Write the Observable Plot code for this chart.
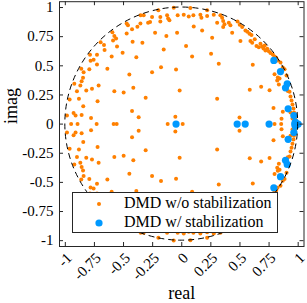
<!DOCTYPE html>
<html>
<head>
<meta charset="utf-8">
<script src="https://cdn.jsdelivr.net/npm/d3@7"></script>
<script src="https://cdn.jsdelivr.net/npm/@observablehq/plot@0.6"></script>
<style>
  body { margin: 0; background: #fff; }
  #wrap { position: relative; width: 307px; height: 303px; font-family: "Liberation Serif", "DejaVu Serif", serif; }
  #legend { position: absolute; left: 72px; top: 192px; width: 206px; height: 41px; box-sizing: border-box;
            border: 1px solid #262626; background: #fff; }
  #legend .row { position: absolute; left: 0; width: 100%; height: 16px; }
  #legend svg { position: absolute; left: 18px; top: 0; }
  #legend span { position: absolute; left: 51px; top: -1px; font-size: 16px; line-height: 16px; color: #000; white-space: nowrap; }
</style>
</head>
<body>
<div id="wrap"></div>
<script>
// ---------------- data ----------------
const seriesNames = ["DMD w/o stabilization", "DMD w/ stabilization"];
const seriesColors = ["#ff8000", "#0099ff"];
const tickValues = [-1, -0.75, -0.5, -0.25, 0, 0.25, 0.5, 0.75, 1];
const tickLabels = ["-1", "-0.75", "-0.5", "-0.25", "0", "0.25", "0.5", "0.75", "1"];

// eigenvalues without stabilization: [real, imag], upper half plane
const unstabUpper = [
  [-0.986,0.073],[-0.963,0.211],[-0.929,0.096],[-0.912,0.073],[-0.860,0.079],[-0.883,0.217],
  [-0.923,0.346],[-0.900,0.282],[-0.871,0.331],[-0.860,0.368],[-0.848,0.397],[-0.863,0.475],
  [-0.843,0.445],[-0.794,0.471],[-0.788,0.595],[-0.783,0.543],[-0.757,0.552],[-0.728,0.595],
  [-0.728,0.512],[-0.820,0.288],[-0.771,0.303],[-0.714,0.331],[-0.639,0.475],[-0.723,0.196],
  [-0.846,0.153],[-0.779,0.053],[-0.697,0.703],[-0.668,0.678],[-0.663,0.635],[-0.596,0.787],
  [-0.579,0.755],[-0.564,0.735],[-0.590,0.718],[-0.556,0.666],[-0.508,0.612],[-0.602,0.580],
  [-0.473,0.862],[-0.462,0.848],[-0.473,0.778],[-0.427,0.813],[-0.381,0.836],[-0.422,0.707],
  [-0.390,0.574],[-0.338,0.698],[-0.450,0.426],[-0.416,0.311],[-0.579,0.282],[-0.499,0.271],
  [-0.310,0.225],[-0.427,0.113],[-0.370,0.058],[-0.353,0.933],[-0.327,0.933],[-0.355,0.862],
  [-0.289,0.870],[-0.272,0.875],[-0.255,0.445],[-0.229,0.784],[-0.069,0.998],[0.074,0.996],
  [-0.201,0.976],[0.218,0.976],[-0.255,0.918],[-0.184,0.918],[-0.184,0.881],[-0.126,0.933],
  [-0.117,0.905],[-0.106,0.890],[-0.035,0.933],[0.017,0.939],[0.060,0.924],[0.100,0.933],
  [0.160,0.939],[0.169,0.913],[0.218,0.927],[0.275,0.939],[0.332,0.933],[0.347,0.913],
  [0.356,0.884],[0.304,0.870],[0.356,0.832],[0.367,0.856],[0.404,0.870],[0.418,0.847],
  [0.433,0.784],[0.479,0.881],[0.498,0.853],[0.519,0.832],[0.547,0.804],[0.564,0.793],
  [0.582,0.776],[0.599,0.764],[0.504,0.712],[0.590,0.712],[0.605,0.698],[0.627,0.727],
  [0.642,0.669],[0.662,0.660],[0.676,0.690],[0.691,0.666],[0.702,0.649],[0.713,0.675],
  [0.719,0.632],[0.734,0.647],[0.748,0.626],[0.762,0.609],[0.782,0.598],[0.797,0.580],
  [0.811,0.569],[0.822,0.546],[0.848,0.529],[0.868,0.486],[0.883,0.471],[0.797,0.428],
  [0.825,0.400],[0.840,0.391],[0.900,0.417],[0.911,0.285],[0.926,0.277],[0.934,0.236],
  [0.943,0.202],[0.951,0.168],[0.960,0.133],[0.964,0.099],[0.973,0.064],[0.977,0.039],
  [0.986,0.021],[0.934,0.099],[0.951,0.047],[0.103,0.838],[0.175,0.804],[-0.132,0.755],
  [-0.040,0.784],[0.261,0.741],[0.037,0.669],[-0.155,0.641],[0.252,0.604],[0.089,0.580],
  [0.318,0.518],[0.610,0.509],[-0.049,0.469],[-0.178,0.488],[-0.018,0.288],[0.304,0.217],
  [0.584,0.294],[0.754,0.290],[0.788,0.139],[0.820,0.374],[0.834,0.340],[-0.055,0.064],
  [0.857,0.045],[0.868,0.105],[0.496,0.056],[0.682,0.320]
];
// conjugate partners, lower half plane
const unstabLower = [
  [-0.986,-0.073],[-0.963,-0.211],[-0.929,-0.096],[-0.912,-0.073],[-0.860,-0.079],[-0.883,-0.217],
  [-0.923,-0.346],[-0.900,-0.282],[-0.871,-0.331],[-0.860,-0.368],[-0.848,-0.397],[-0.863,-0.475],
  [-0.843,-0.445],[-0.794,-0.471],[-0.788,-0.595],[-0.783,-0.543],[-0.757,-0.552],[-0.728,-0.595],
  [-0.728,-0.512],[-0.820,-0.288],[-0.771,-0.303],[-0.714,-0.331],[-0.639,-0.475],[-0.723,-0.196],
  [-0.846,-0.153],[-0.779,-0.053],[-0.697,-0.703],[-0.668,-0.678],[-0.663,-0.635],[-0.596,-0.787],
  [-0.579,-0.755],[-0.564,-0.735],[-0.590,-0.718],[-0.556,-0.666],[-0.508,-0.612],[-0.602,-0.580],
  [-0.473,-0.862],[-0.462,-0.848],[-0.473,-0.778],[-0.427,-0.813],[-0.381,-0.836],[-0.422,-0.707],
  [-0.390,-0.574],[-0.338,-0.698],[-0.450,-0.426],[-0.416,-0.311],[-0.579,-0.282],[-0.499,-0.271],
  [-0.310,-0.225],[-0.427,-0.113],[-0.370,-0.058],[-0.353,-0.933],[-0.327,-0.933],[-0.355,-0.862],
  [-0.289,-0.870],[-0.272,-0.875],[-0.255,-0.445],[-0.229,-0.784],[-0.069,-0.998],[0.074,-0.996],
  [-0.201,-0.976],[0.218,-0.976],[-0.255,-0.918],[-0.184,-0.918],[-0.184,-0.881],[-0.126,-0.933],
  [-0.117,-0.905],[-0.106,-0.890],[-0.035,-0.933],[0.017,-0.939],[0.060,-0.924],[0.100,-0.933],
  [0.160,-0.939],[0.169,-0.913],[0.218,-0.927],[0.275,-0.939],[0.332,-0.933],[0.347,-0.913],
  [0.356,-0.884],[0.304,-0.870],[0.356,-0.832],[0.367,-0.856],[0.404,-0.870],[0.418,-0.847],
  [0.433,-0.784],[0.479,-0.881],[0.498,-0.853],[0.519,-0.832],[0.547,-0.804],[0.564,-0.793],
  [0.582,-0.776],[0.599,-0.764],[0.504,-0.712],[0.590,-0.712],[0.605,-0.698],[0.627,-0.727],
  [0.642,-0.669],[0.662,-0.660],[0.676,-0.690],[0.691,-0.666],[0.702,-0.649],[0.713,-0.675],
  [0.719,-0.632],[0.734,-0.647],[0.748,-0.626],[0.762,-0.609],[0.782,-0.598],[0.797,-0.580],
  [0.811,-0.569],[0.822,-0.546],[0.848,-0.529],[0.868,-0.486],[0.883,-0.471],[0.797,-0.428],
  [0.825,-0.400],[0.840,-0.391],[0.900,-0.417],[0.911,-0.285],[0.926,-0.277],[0.934,-0.236],
  [0.943,-0.202],[0.951,-0.168],[0.960,-0.133],[0.964,-0.099],[0.973,-0.064],[0.977,-0.039],
  [0.986,-0.021],[0.934,-0.099],[0.951,-0.047],[0.103,-0.838],[0.175,-0.804],[-0.132,-0.755],
  [-0.040,-0.784],[0.261,-0.741],[0.037,-0.669],[-0.155,-0.641],[0.252,-0.604],[0.089,-0.580],
  [0.318,-0.518],[0.610,-0.509],[-0.049,-0.469],[-0.178,-0.488],[-0.018,-0.288],[0.304,-0.217],
  [0.584,-0.294],[0.754,-0.290],[0.788,-0.139],[0.820,-0.374],[0.834,-0.340],[-0.055,-0.064],
  [0.857,-0.045],[0.868,-0.105],[0.496,-0.056],[0.682,-0.320]
];
// real eigenvalues without stabilization
const unstabReal = [-0.950, -0.895, -0.731, -0.585, -0.559, -0.121, 0.008, 0.797, 0.854, 0.990];

// eigenvalues with stabilization
const stabComplex = [
  [0.791,0.546],[0.848,0.451],[0.906,0.346],[0.891,0.311],[0.914,0.131],[0.963,0.073],[0.975,0.018],
  [0.791,-0.546],[0.848,-0.451],[0.906,-0.346],[0.891,-0.311],[0.914,-0.131],[0.963,-0.073],[0.975,-0.018]
];
const stabReal = [-0.049, 0.476, 0.545, 0.750, 0.970, 0.990, 1.000];

// ---------------- table built from the arrays ----------------
const unstab = [
  ...unstabUpper.map(([re, im]) => ({re, im})),
  ...unstabLower.map(([re, im]) => ({re, im})),
  ...unstabReal.map(re => ({re, im: 0}))
];
const stab = [
  ...stabComplex.map(([re, im]) => ({re, im})),
  ...stabReal.map(re => ({re, im: 0}))
];

const W = 307, H = 303, mL = 59, mR = 3.5, mT = 1.2, mB = 57;
const innerH = H - mT - mB, innerW = W - mL - mR;
const tickLen = 4;
const axisColor = "#262626";

function unitCircle(index, scales) {
  const cx = scales.x(0), cy = scales.y(0);
  const rx = Math.abs(scales.x(1) - cx), ry = Math.abs(scales.y(1) - cy);
  return d3.create("svg:ellipse")
    .attr("cx", cx).attr("cy", cy).attr("rx", rx).attr("ry", ry)
    .attr("fill", "none").attr("stroke", "#000").attr("stroke-width", 1)
    .attr("stroke-dasharray", "6,4").node();
}

const chart = Plot.plot({
  width: W, height: H,
  marginLeft: mL, marginRight: mR, marginTop: mT, marginBottom: mB,
  style: {fontFamily: '"Liberation Serif", "DejaVu Serif", serif', fontSize: "15px", color: "#000", background: "#fff"},
  x: {domain: [-1.05, 1.05]},
  y: {domain: [-1.05, 1.05]},
  marks: [
    Plot.dot(unstab, {x: "re", y: "im", r: 2, fill: seriesColors[0], stroke: "none"}),
    Plot.dot(stab, {x: "re", y: "im", r: 3.6, fill: seriesColors[1], stroke: "none"}),
    unitCircle,
    Plot.frame({stroke: axisColor, strokeWidth: 1}),
    // inward ticks on all four sides
    Plot.tickX(tickValues, {x: d => d, insetTop: innerH - tickLen, stroke: axisColor}),
    Plot.tickX(tickValues, {x: d => d, insetBottom: innerH - tickLen, stroke: axisColor}),
    Plot.tickY(tickValues, {y: d => d, insetRight: innerW - tickLen, stroke: axisColor}),
    Plot.tickY(tickValues, {y: d => d, insetLeft: innerW - tickLen, stroke: axisColor}),
    Plot.axisX(tickValues, {tickSize: 0, tickPadding: 9, tickRotate: -45, fontSize: 15, dx: 4,
      tickFormat: (d, i) => tickLabels[i], label: null}),
    Plot.axisY(tickValues, {tickSize: 0, tickPadding: 6, fontSize: 15,
      tickFormat: (d, i) => tickLabels[i], label: null}),
    Plot.text(["real"], {frameAnchor: "bottom", dy: 52, fontSize: 18, fill: "#000"}),
    Plot.text(["imag"], {frameAnchor: "left", dx: -48, rotate: -90, fontSize: 18, fill: "#000"})
  ]
});

const wrap = document.getElementById("wrap");
wrap.appendChild(chart);

// legend inside the axes, as in the reference
const legend = document.createElement("div");
legend.id = "legend";
const rowsY = [3.3, 21.7];
const markerR = [2, 3.6];
seriesNames.forEach((name, i) => {
  const row = document.createElement("div");
  row.className = "row";
  row.style.top = rowsY[i] + "px";
  row.innerHTML = `<svg width="16" height="16"><circle cx="8" cy="8" r="${markerR[i]}" fill="${seriesColors[i]}"/></svg><span>${name}</span>`;
  legend.appendChild(row);
});
wrap.appendChild(legend);
</script>
</body>
</html>
